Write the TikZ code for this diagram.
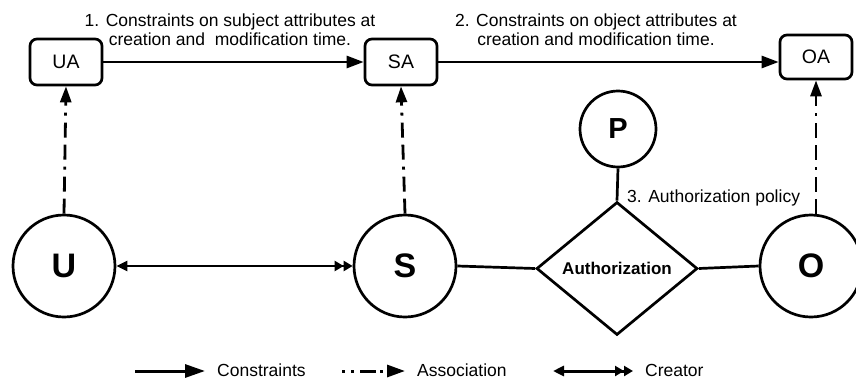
\documentclass[tikz,border=0pt]{standalone}
\usepackage{fontspec}
\setmainfont{Liberation Sans}
\usetikzlibrary{arrows.meta,shapes.geometric}

\tikzset{
  txt/.style={font=\fontsize{17.5}{19}\selectfont, inner sep=0pt},
  attrbox/.style={draw, line width=2.7pt, rounded corners=7pt, fill=white,
    minimum width=72pt, minimum height=46pt, inner sep=0pt,
    font=\fontsize{19.5}{22}\selectfont},
  entity/.style={draw, circle, line width=2.7pt, fill=white,
    minimum size=102pt, inner sep=0pt,
    font=\fontsize{34}{36}\selectfont\bfseries},
  policy/.style={draw, circle, line width=2.7pt, fill=white,
    minimum size=76pt, inner sep=0pt,
    font=\fontsize{29}{32}\selectfont\bfseries},
  decision/.style={draw, diamond, line width=2.7pt, fill=white,
    minimum width=161pt, minimum height=133pt, inner sep=0pt,
    font=\fontsize{17}{20}\selectfont\bfseries},
  link/.style={line width=2.7pt},
  constraint/.style={line width=2.7pt, -{Triangle[length=17pt,width=12pt]}},
  association/.style={line width=2.8pt,
    dash pattern=on 15pt off 7pt on 15pt off 7pt on 3pt off 7pt,
    -{Triangle[length=16pt,width=11pt]}},
  creator/.style={line width=2.5pt,
    {Triangle[length=11pt,width=10pt]}-{Triangle[length=9pt,width=10pt]Triangle[length=9pt,width=10pt]}},
}

\begin{document}
\begin{tikzpicture}[x=1pt, y=-1pt]
  \useasboundingbox (0,0) rectangle (856,380);

  % attribute boxes
  \node[attrbox] (UA) at (66,62) {UA};
  \node[attrbox] (SA) at (401,62) {SA};
  \node[attrbox, minimum height=44pt] (OA) at (816,57) {OA};

  % entities
  \node[entity] (U) at (64,266) {U};
  \node[entity] (S) at (405,266) {S};
  \node[entity] (O) at (811,266) {O};
  \node[policy] (P) at (618,129) {P};
  \node[decision] (Auth) at (617,268.5) {Authorization};

  % constraints between attributes
  \draw[constraint] (UA.east) -- (SA.west);
  \draw[constraint] (SA.east) -- (SA.east -| OA.west);
  \node[txt, align=center] (c1) at (230,30)
    {1. Constraints on subject attributes at\\ creation and\ \ modification time.};
  \node[txt, align=center] (c2) at (596,30)
    {2. Constraints on object attributes at\\ creation and modification time.};

  % associations
  \draw[association] (U.north) -- (UA.south);
  \draw[association] (S.north) -- (SA.south);
  \draw[association] (O.north -| OA.south) -- (OA.south);

  % creator and authorization links
  \draw[creator] (U.east) -- (S.west);
  \draw[link] (S.east) -- (Auth.west);
  \draw[link] (Auth.east) -- (O.west);
  \draw[link] (P.south) -- (Auth.north);
  \node[txt, anchor=west] (pol) at (627,198) {3. Authorization policy};

  % legend
  \coordinate (l1a) at (135,371);
  \coordinate (l1b) at (205,371);
  \coordinate (l2a) at (342,371);
  \coordinate (l2b) at (405,371);
  \coordinate (l3a) at (553,371);
  \coordinate (l3b) at (633,371);
  \draw[constraint, line width=3pt, -{Triangle[length=20pt,width=13pt]}] (l1a) -- (l1b);
  \draw[line width=3pt, dash pattern=on 3pt off 6pt on 3pt off 6pt on 16pt off 4pt,
        -{Triangle[length=18pt,width=12pt]}] (l2a) -- (l2b);
  \draw[creator, line width=3pt] (l3a) -- (l3b);
  \node[txt, anchor=west] (lg1) at (217,370) {Constraints};
  \node[txt, anchor=west] (lg2) at (417,370) {Association};
  \node[txt, anchor=west] (lg3) at (645,370) {Creator};
\end{tikzpicture}
\end{document}
